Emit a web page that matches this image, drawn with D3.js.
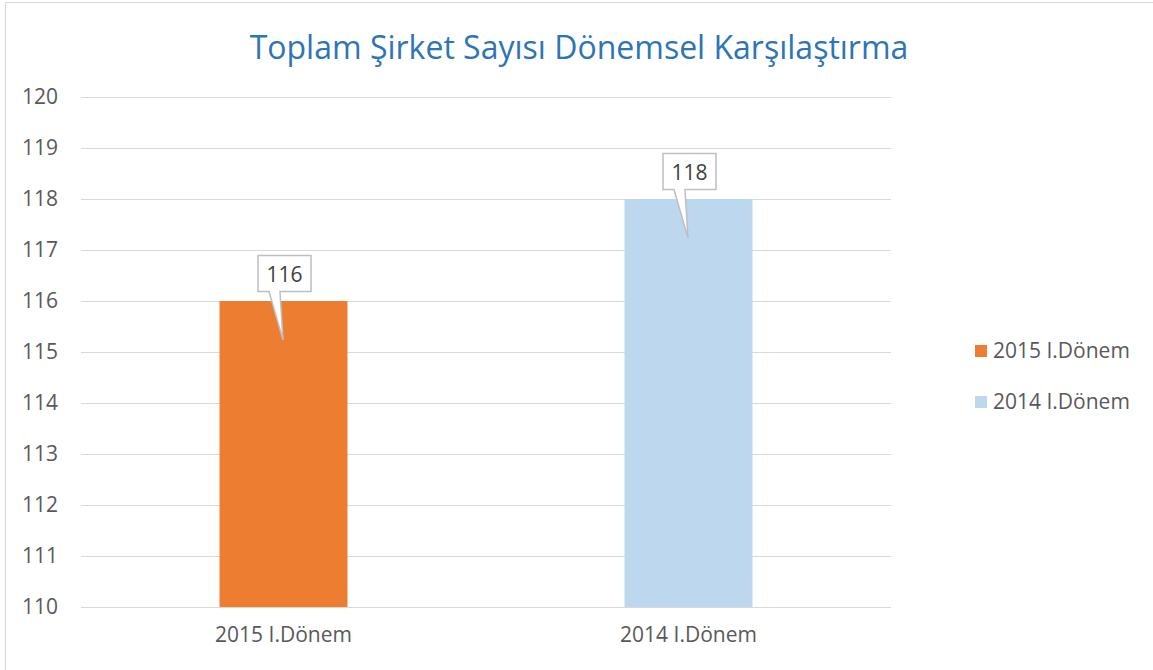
<!DOCTYPE html>
<html>
<head>
<meta charset="utf-8">
<script src="https://cdn.jsdelivr.net/npm/d3@7"></script>
<style>
  body { margin: 0; background: #fff; }
  text { font-family: "Open Sans", "Noto Sans", sans-serif; }
</style>
</head>
<body>
<div id="chart"></div>
<script>
// data
var categories = ["2015 I.Dönem", "2014 I.Dönem"];
var values = [116, 118];
var colors = ["#ed7d31", "#bdd7ee"];
var yTicks = [110, 111, 112, 113, 114, 115, 116, 117, 118, 119, 120];
var title = "Toplam Şirket Sayısı Dönemsel Karşılaştırma";

var svgWidth = 1153;
var svgHeight = 670;

var margin = { top: 97, right: 262, bottom: 63, left: 81 };
var width = svgWidth - margin.left - margin.right;
var height = svgHeight - margin.top - margin.bottom;

var svg = d3.select("#chart")
  .append("svg")
  .attr("width", svgWidth)
  .attr("height", svgHeight);

// outer frame
svg.append("rect")
  .attr("x", 5.5)
  .attr("y", 2.5)
  .attr("width", svgWidth + 10)
  .attr("height", svgHeight + 10)
  .attr("fill", "none")
  .attr("stroke", "#d9d9d9");

svg.append("text")
  .attr("x", 579)
  .attr("y", 59)
  .attr("text-anchor", "middle")
  .attr("fill", "#2e75b6")
  .style("font-size", "32px")
  .text(title);

var chartGroup = svg.append("g")
  .attr("transform", `translate(${margin.left}, ${margin.top})`);

var xScale = d3.scaleBand()
  .domain(categories)
  .range([0, width])
  .paddingInner(0.684)
  .paddingOuter(0.342);

var yScale = d3.scaleLinear()
  .domain([110, 120])
  .range([height, 0]);

// gridlines
chartGroup.append("g")
  .selectAll("line")
  .data(yTicks)
  .enter()
  .append("line")
  .attr("x1", 0)
  .attr("x2", width)
  .attr("y1", d => Math.round(yScale(d)) + 0.5)
  .attr("y2", d => Math.round(yScale(d)) + 0.5)
  .attr("stroke", "#d9d9d9")
  .attr("stroke-width", 1);

// y axis labels
var leftAxis = d3.axisLeft(yScale).tickValues(yTicks).tickSize(0).tickPadding(23);
var yAxisG = chartGroup.append("g").call(leftAxis);
yAxisG.select(".domain").remove();
yAxisG.selectAll("text")
  .attr("fill", "#595959")
  .style("font-size", "21px");

// x axis labels
var bottomAxis = d3.axisBottom(xScale).tickSize(0).tickPadding(20);
var xAxisG = chartGroup.append("g")
  .attr("transform", `translate(0, ${height})`)
  .call(bottomAxis);
xAxisG.select(".domain").remove();
xAxisG.selectAll("text")
  .attr("fill", "#595959")
  .style("font-size", "21px");

// bars
chartGroup.selectAll(".bar")
  .data(values)
  .enter()
  .append("rect")
  .attr("class", "bar")
  .attr("x", (d, i) => xScale(categories[i]))
  .attr("y", d => yScale(d))
  .attr("width", xScale.bandwidth())
  .attr("height", d => height - yScale(d))
  .attr("fill", (d, i) => colors[i]);

// callout labels
var callouts = chartGroup.selectAll(".callout")
  .data(values)
  .enter()
  .append("g")
  .attr("class", "callout")
  .attr("transform", (d, i) => `translate(${xScale(categories[i]) + xScale.bandwidth() / 2}, ${yScale(d)})`);

callouts.append("path")
  .attr("d", "M-25.5,-45.5 H27.5 V-9.5 H-3.5 L-0.5,39 L-14.5,-9.5 H-25.5 Z")
  .attr("fill", "#fff")
  .attr("stroke", "#bfbfbf")
  .attr("stroke-width", 1.5);

callouts.append("text")
  .attr("x", 1)
  .attr("y", -19)
  .attr("text-anchor", "middle")
  .attr("fill", "#404040")
  .style("font-size", "21px")
  .text(d => d);

// legend
var legend = svg.append("g")
  .selectAll("g")
  .data(categories)
  .enter()
  .append("g")
  .attr("transform", (d, i) => `translate(975, ${345 + i * 51})`);

legend.append("rect")
  .attr("width", 12)
  .attr("height", 12)
  .attr("fill", (d, i) => colors[i]);

legend.append("text")
  .attr("x", 18)
  .attr("y", 13)
  .attr("fill", "#595959")
  .style("font-size", "21px")
  .text(d => d);
</script>
</body>
</html>
